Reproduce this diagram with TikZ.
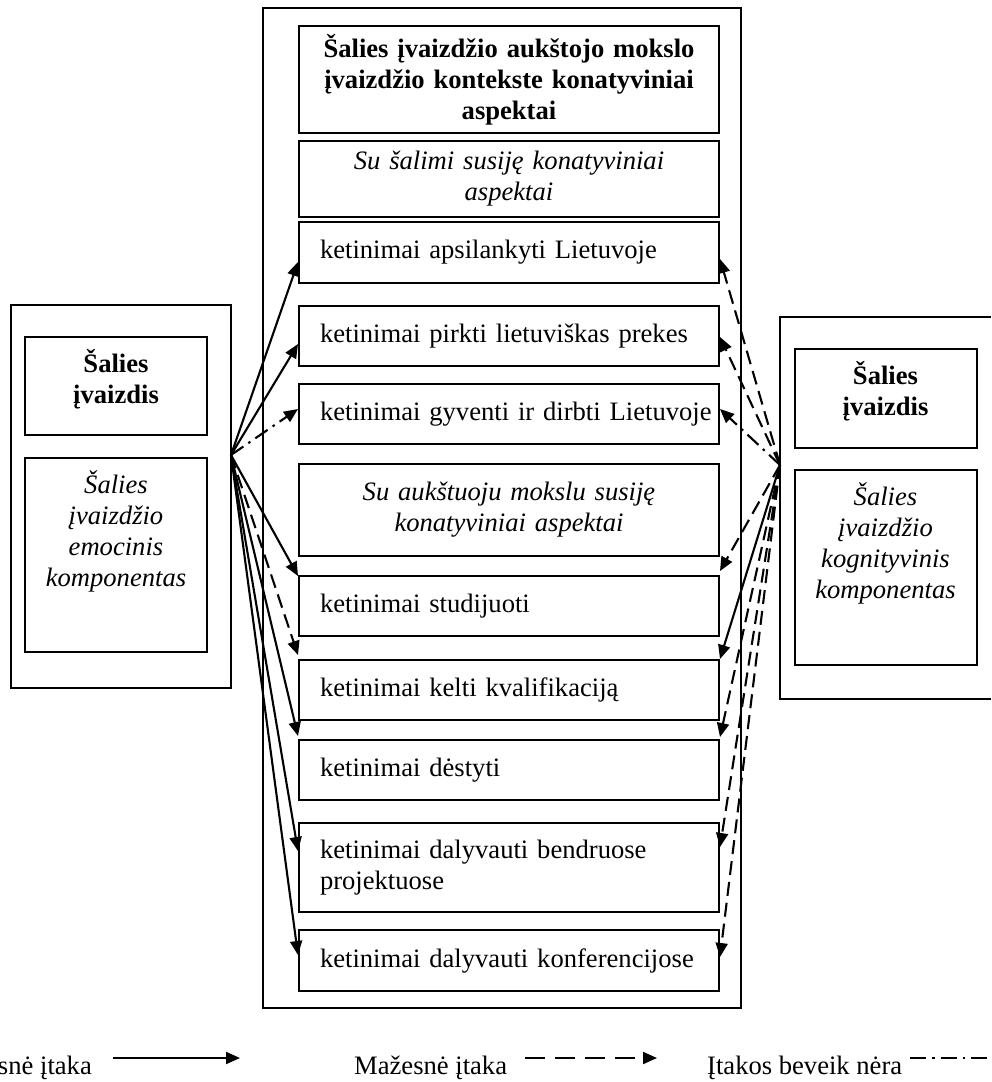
\documentclass[tikz,border=0pt]{standalone}
\usepackage{fontspec}
\setmainfont{Liberation Serif}
\usetikzlibrary{arrows.meta,calc}
\newcommand\myfs{\fontsize{26.6}{31}\selectfont}
\newcommand\lowpad{\rule[-20pt]{0pt}{20pt}}
\begin{document}
\begin{tikzpicture}[x=1pt,y=-1pt,
  every node/.style={font=\myfs},
  box/.style={draw,line width=2pt,inner xsep=21pt,inner ysep=0pt,text width=378pt,align=left},
  cbox/.style={box,align=center},
  sbox/.style={draw,line width=2pt,inner sep=0pt,minimum width=182pt,align=center},
  frame/.style={draw,line width=2pt},
  arrstrong/.style={line width=2.1pt,-{Triangle[length=14pt,width=12pt]}},
  arrweak/.style={arrstrong,dash pattern=on 14pt off 7pt},
  arrnone/.style={arrstrong,dash pattern=on 15pt off 6pt on 2.5pt off 6pt},
]
\useasboundingbox (0,0) rectangle (991,1082);

% centre frame
\draw[frame] (263,8) rectangle (741,1008);
\node[cbox,minimum height=107pt,font=\myfs\bfseries] (title) at (509,79.5)
  {Šalies įvaizdžio aukštojo mokslo\\ įvaizdžio kontekste konatyviniai\\ aspektai};
\node[cbox,minimum height=76pt,font=\myfs\itshape] (salimi) at (509,179)
  {Su šalimi susiję konatyviniai\\ aspektai};
\node[box,minimum height=61pt] (b1) at (509,252.5) {ketinimai apsilankyti Lietuvoje};
\node[box,minimum height=60pt] (b2) at (509,336) {ketinimai pirkti lietuviškas prekes};
\node[box,minimum height=60pt] (b3) at (509,414) {\mbox{ketinimai gyventi ir dirbti Lietuvoje}};
\node[cbox,minimum height=92pt,font=\myfs\itshape] (aukst) at (509,510)
  {Su aukštuoju mokslu susiję\\ konatyviniai aspektai};
\node[box,minimum height=60pt] (b4) at (509,606) {ketinimai studijuoti};
\node[box,minimum height=60pt] (b5) at (509,690) {ketinimai kelti kvalifikaciją};
\node[box,minimum height=60pt] (b6) at (509,770) {ketinimai dėstyti};
\node[box,minimum height=89pt] (b7) at (509,867.5) {ketinimai dalyvauti bendruose\\ projektuose};
\node[box,minimum height=61pt] (b8) at (509,960.5) {ketinimai dalyvauti konferencijose};

% left frame
\draw[frame] (11,305) rectangle (231,688);
\node[sbox,minimum height=98pt,font=\myfs\bfseries] (lt) at (116,386) {Šalies\\ įvaizdis\lowpad};
\node[sbox,minimum height=194pt] (lb) at (116,555)
  {\parbox[c][194pt][t]{182pt}{\centering\itshape\rule{0pt}{35pt}Šalies\\ įvaizdžio\\ emocinis\\ komponentas}};

% right frame (cut by the page edge)
\draw[frame] (991,317) -- (780,317) -- (780,699) -- (991,699);
\node[sbox,minimum height=99pt,font=\myfs\bfseries] (rt) at (885.5,398.5) {Šalies\\ įvaizdis\lowpad};
\node[sbox,minimum height=195pt] (rb) at (885.5,567.5)
  {\parbox[c][195pt][t]{182pt}{\centering\itshape\rule{0pt}{35pt}Šalies\\ įvaizdžio\\ kognityvinis\\ komponentas}};

\coordinate (L) at (231,455);
\coordinate (R) at (780,465);

% left arrows
\draw[arrstrong] (L) -- ($(b1.north west)+(0,41)$);
\draw[arrstrong] (L) -- ($(b2.north west)+(0,39)$);
\draw[arrnone]   (L) -- ($(b3.north west)+(0,26)$);
\draw[arrstrong] (L) -- ($(b4.north west)+(0,1)$);
\draw[arrweak]   (L) -- ($(b5.north west)+(0,-4)$);
\draw[arrstrong] (L) -- ($(b6.north west)+(0,-3)$);
\draw[arrstrong] (L) -- ($(b7.north west)+(0,29)$);
\draw[arrstrong] (L) -- ($(b8.north west)+(0,26)$);

% right arrows
\draw[arrweak]   (R) -- ($(b1.north east)+(0,38)$);
\draw[arrweak]   (R) -- ($(b2.north east)+(0,32)$);
\draw[arrnone]   (R) -- ($(b3.north east)+(0,26)$);
\draw[arrweak]   (R) -- ($(b4.north east)+(0,-4)$);
\draw[arrstrong] (R) -- ($(b5.north east)+(0,0)$);
\draw[arrweak]   (R) -- ($(b6.north east)+(0,-2)$);
\draw[arrweak]   (R) -- ($(b7.north east)+(0,25)$);
\draw[arrweak]   (R) -- ($(b8.north east)+(0,28)$);

% legend
\node[anchor=base east,inner sep=0pt] (lg1) at (92,1074) {snė įtaka};
\node[anchor=base west,inner sep=0pt] (lg2) at (354,1074) {Mažesnė įtaka};
\node[anchor=base west,inner sep=0pt] (lg3) at (707,1074) {Įtakos beveik nėra};
\coordinate (s1a) at (113,1058); \coordinate (s1b) at (240,1058);
\coordinate (s2a) at (525,1058); \coordinate (s2b) at (657,1058);
\coordinate (s3a) at (910,1058); \coordinate (s3b) at (991,1058);
\draw[arrstrong] (s1a) -- (s1b);
\draw[arrweak,dash pattern=on 20pt off 10pt] (s2a) -- (s2b);
\draw[line width=2.1pt,dash pattern=on 16pt off 6pt on 2.5pt off 6pt] (s3a) -- (s3b);
\end{tikzpicture}
\end{document}
